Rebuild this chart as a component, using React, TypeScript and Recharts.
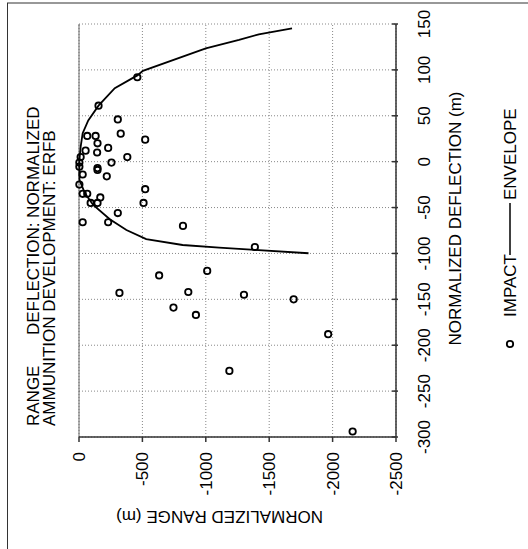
import { ScatterChart, Scatter, XAxis, YAxis, CartesianGrid, Label, ReferenceLine } from 'recharts'

const DEFL_TICKS = [-300, -250, -200, -150, -100, -50, 0, 50, 100, 150]
const RANGE_TICKS = [0, -500, -1000, -1500, -2000, -2500]

// impact points, deflection (m) and range (m)
const IMPACT_DEFL = [
  92, 61, 46, 30.5, 24, 28, 28, 20, 15, 12, 10, 5, 5, -1, -1, -5.5, -7, -9, -14, -16,
  -25, -30, -35, -35, -39, -45, -45, -45, -66, -66, -56, -70, -93, -119, -124, -143,
  -142, -145, -159, -167, -150, -188, -228, -294,
]
const IMPACT_RANGE = [
  -460, -154, -306, -329, -522, -65, -131, -146, -230, -52, -143, -381, -13, -3, -256, -3, -146, -146, -29, -219,
  -3, -522, -29, -65, -168, -92, -146, -509, -29, -230, -306, -820, -1387, -1011, -632, -319,
  -862, -1301, -745, -922, -1693, -1965, -1186, -2158,
]

// envelope curve, in drawing order
const ENVELOPE_DEFL = [-99.8, -96.2, -93.7, -90.8, -84.3, -74.4, -62.8, -47.2, -34.5, -20, 0, 16, 31, 45, 61, 80, 94, 99, 123.5, 132.6, 138.8, 145.3]
const ENVELOPE_RANGE = [-1810, -1387, -1105, -817, -530, -374, -243, -112, -47, -4, -2, -13, -29, -73, -154, -282, -460, -504, -1000, -1262, -1418, -1680]

const FONT = '"Liberation Sans", Arial, sans-serif'
const AXIS = '#333'

function DeflTick(props: any) {
  const { x, y, payload } = props
  return (
    <g>
      <line x1={x} y1={y} x2={x} y2={y - 6} stroke={AXIS} strokeWidth={1.5} />
      <text x={x} y={y + 32} textAnchor="middle" fontSize={17} fontFamily={FONT} fill="#000">
        {payload.value}
      </text>
    </g>
  )
}

function ImpactDot(props: any) {
  return <circle cx={props.cx} cy={props.cy} r={3.2} fill="none" stroke="#000" strokeWidth={1.8} />
}

export default function App() {
  const impacts = IMPACT_DEFL.map((d, i) => ({ x: d, y: IMPACT_RANGE[i] }))
  const envelope = ENVELOPE_DEFL.map((d, i) => ({ x: d, y: ENVELOPE_RANGE[i] }))

  // chart is laid out unrotated, then turned a quarter turn counter-clockwise
  return (
    <div style={{ position: 'absolute', left: 0, top: 0, width: 528, height: 549, overflow: 'hidden', background: '#fff' }}>
      <div
        style={{
          position: 'absolute', left: 0, top: 0, width: 549, height: 528,
          transformOrigin: '0 0', transform: 'translateY(549px) rotate(-90deg)',
        }}
      >
        <ScatterChart width={549} height={528} margin={{ top: 79, right: 24, left: 12, bottom: 20 }}>
          <CartesianGrid stroke="#888" strokeDasharray="1 2" />
          <XAxis
            type="number" dataKey="x" domain={[-300, 150]} ticks={DEFL_TICKS}
            height={112} tickSize={0} tick={<DeflTick />}
            axisLine={{ stroke: AXIS, strokeWidth: 1.5 }}
          >
            <Label
              content={(p: any) => {
                const vb = p.viewBox
                return (
                  <text x={vb.x + vb.width / 2 + 12} y={vb.y + 65} textAnchor="middle" fontSize={17} fontFamily={FONT} fill="#000">
                    NORMALIZED DEFLECTION (m)
                  </text>
                )
              }}
            />
          </XAxis>
          <YAxis
            type="number" dataKey="y" domain={[-2500, 0]} ticks={RANGE_TICKS}
            width={100} tickSize={5} tickMargin={10}
            tick={{ fontSize: 17, fontFamily: FONT, fill: '#000' }}
            tickLine={{ stroke: AXIS, strokeWidth: 1.5 }}
            axisLine={{ stroke: AXIS, strokeWidth: 1.5 }}
          >
            <Label
              content={(p: any) => {
                const vb = p.viewBox
                const cy = vb.y + vb.height / 2 - 18
                return (
                  <text x={38} y={cy} transform={`rotate(-90 38 ${cy})`} textAnchor="middle" fontSize={17} fontFamily={FONT} fill="#000">
                    NORMALIZED RANGE (m)
                  </text>
                )
              }}
            />
          </YAxis>
          <ReferenceLine y={0} stroke="#666" strokeWidth={1} />
          <Scatter data={envelope} line={{ stroke: '#000', strokeWidth: 1.8 }} shape={() => <g />} isAnimationActive={false} />
          <Scatter data={impacts} shape={<ImpactDot />} isAnimationActive={false} />
        </ScatterChart>
        <svg width={549} height={528} style={{ position: 'absolute', left: 0, top: 0, overflow: 'visible', pointerEvents: 'none' }}>
          <rect x={-20} y={7.5} width={566} height={600} fill="none" stroke={AXIS} strokeWidth={1} />
          <g fontSize={17} fontFamily={FONT} fill="#000">
            <text x={123} y={39}>RANGE</text>
            <text x={214} y={39}>DEFLECTION: NORMALIZED</text>
            <text x={123} y={55}>AMMUNITION DEVELOPMENT: ERFB</text>
            <circle cx={205} cy={510} r={3.2} fill="none" stroke="#000" strokeWidth={1.8} />
            <text x={232} y={516}>IMPACT</text>
            <line x1={294} y1={510} x2={346} y2={510} stroke="#000" strokeWidth={1.5} />
            <text x={349} y={516}>ENVELOPE</text>
          </g>
        </svg>
      </div>
    </div>
  )
}
